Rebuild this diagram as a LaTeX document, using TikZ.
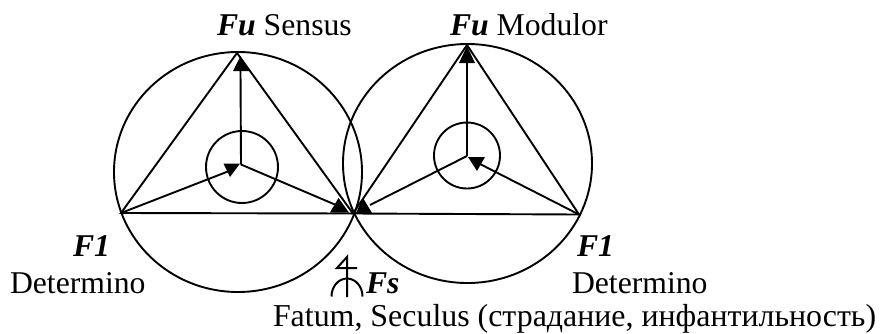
\documentclass[tikz,border=0pt]{standalone}
\usepackage{fontspec}
\setmainfont{Liberation Serif}
\begin{document}
\begin{tikzpicture}[x=1pt,y=-1pt,
  lbl/.style={anchor=base west,inner sep=0pt,outer sep=0pt,font=\fontsize{31.7}{32}\selectfont},
  ln/.style={draw=black,line width=1.9pt},
  headfill/.style={fill=black,draw=none},
  glyph/.style={draw=black,line width=2pt}]
\useasboundingbox (0,0) rectangle (881,333);
% named points
\coordinate (LA) at (237,53);
\coordinate (LL) at (121,213);
\coordinate (M)  at (353,213.5);
\coordinate (LC) at (241,164.5);
\coordinate (RA) at (467,45);
\coordinate (RR) at (579,214.5);
\coordinate (RC) at (467,156);
% outer and inner circles
\draw[ln] (238,172) ellipse [x radius=124,y radius=120];
\draw[ln] (467.5,163.5) ellipse [x radius=124.5,y radius=119.5];
\draw[ln] (242,167) circle (36);
\draw[ln] (467,155.5) circle (33);
% triangles
\draw[ln] (LA) -- (LL) -- (M) -- cycle;
\draw[ln] (RA) -- (M) -- (RR) -- cycle;
% arrows
\draw[ln] (LC) -- (240.5,70);
\draw[ln] (LC) -- (336,205);
\draw[ln] (LL) -- (233,169.5);
\draw[ln] (RC) -- (467,62);
\draw[ln] (RC) -- (370,205);
\draw[ln] (RR) -- (480,164);
% arrowheads
\fill[headfill] (240.5,56) -- (233,71) -- (249,71) -- cycle;
\fill[headfill] (223.5,163.5) -- (240,163.5) -- (230,177) -- cycle;
\fill[headfill] (338.5,198) -- (330,212.5) -- (349,212.5) -- cycle;
\fill[headfill] (363,198) -- (356,213) -- (372,213) -- cycle;
\fill[headfill] (467,46) -- (459,63) -- (475,63) -- cycle;
\fill[headfill] (468,157) -- (485,157) -- (477,171) -- cycle;
% Fs symbol
\draw[glyph] (347,297) -- (347,257) -- (337,268) -- (357,268);
\draw[glyph] (331.5,296.5) arc[start angle=180,end angle=360,x radius=15.5,y radius=18];
% labels
\node[lbl] (t1) at (217,35) {\textbf{\textit{Fu}} Sensus};
\node[lbl] (t2) at (450,35) {\textbf{\textit{Fu}} Modulor};
\node[lbl] (t3) at (73,256) {\textbf{\textit{F1}}};
\node[lbl] (t4) at (10,293) {Determino};
\node[lbl] (t5) at (366,293) {\textbf{\textit{Fs}}};
\node[lbl] (t6) at (577,256) {\textbf{\textit{F1}}};
\node[lbl] (t7) at (572,293) {Determino};
\node[lbl,font=\fontsize{31.9}{32}\selectfont] (t8) at (273,326.3) {Fatum, Seculus (страдание, инфантильность)};
\end{tikzpicture}
\end{document}
